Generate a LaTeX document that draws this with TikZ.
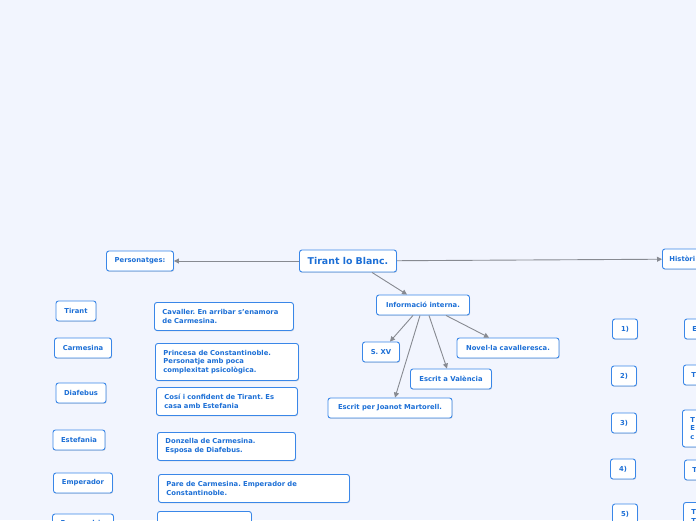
\documentclass[tikz,border=0pt]{standalone}
\usepackage{fontspec}
\setmainfont{DejaVu Sans}
\usepackage{xcolor}
\usetikzlibrary{arrows.meta,positioning,shadows}
\definecolor{bgblue}{RGB}{242,245,254}
\definecolor{boxblue}{RGB}{58,135,232}
\definecolor{txtblue}{RGB}{28,111,214}
\definecolor{linkgray}{RGB}{135,138,145}
\tikzset{>=Stealth}
\frenchspacing

\begin{document}
\begin{tikzpicture}[
    x=1pt, y=-1pt,
    topic/.style={rectangle, draw=boxblue, fill=white, line width=0.9pt,
        rounded corners=2.5pt, text=txtblue, inner xsep=4pt, inner ysep=2pt,
        minimum height=20pt, font=\bfseries\fontsize{6.8}{8}\selectfont,
        drop shadow={shadow xshift=0.6pt, shadow yshift=-0.9pt, opacity=0.25}},
    central/.style={topic, minimum height=22pt, font=\bfseries\fontsize{9.4}{11}\selectfont},
    note/.style={topic, anchor=north west, align=left, inner xsep=8pt,
        inner ysep=3pt, font=\bfseries\fontsize{6.8}{8.8}\selectfont},
    link/.style={->, draw=linkgray, line width=0.9pt,
        >={Triangle[length=5pt,width=5pt]}}
]
    \useasboundingbox (0,0) rectangle (696,520);
    \clip (0,0) rectangle (696,520);
    \fill[bgblue] (0,0) rectangle (696,520);

    % main topic and branches
    \node[central, minimum width=97pt] (title) at (348,261) {Tirant lo Blanc.};
    \node[topic, minimum width=67pt] (pers) at (140,261) {Personatges:};
    \node[topic, anchor=west, align=left, inner xsep=7pt, text width=60pt] (hist) at (662,259) {Històri};
    \node[topic, minimum width=93pt] (info) at (423,305) {Informació interna.};

    \draw[link] (title) -- (pers);
    \draw[link] (title) -- (hist);
    \draw[link] ([xshift=24pt]title.south) -- ([xshift=-16pt]info.north);

    % informacio interna
    \node[topic, minimum width=37pt] (sxv) at (381,352) {S. XV};
    \node[topic, minimum width=102pt] (novela) at (508,348) {Novel·la cavalleresca.};
    \node[topic, minimum width=81pt] (valencia) at (451,379) {Escrit a València};
    \node[topic, minimum width=124pt] (martorell) at (390,408) {Escrit per Joanot Martorell.};

    \draw[link] ([xshift=-10pt]info.south) -- ([xshift=9pt]sxv.north);
    \draw[link] ([xshift=-3pt]info.south) -- ([xshift=5pt]martorell.north);
    \draw[link] ([xshift=6pt]info.south) -- ([xshift=-4pt]valencia.north);
    \draw[link] ([xshift=23pt]info.south) -- ([xshift=-19pt]novela.north);

    % personatges
    \node[topic, minimum width=40pt] (tirant) at (76,311) {Tirant};
    \node[topic, minimum width=57pt] (carmesina) at (83,348) {Carmesina};
    \node[topic, minimum width=50pt] (diafebus) at (81,393) {Diafebus};
    \node[topic, minimum width=52pt] (estefania) at (79,440) {Estefania};
    \node[topic, minimum width=59pt] (emperador) at (83,483) {Emperador};
    \node[topic, minimum width=61pt] (emperadriu) at (83,524) {Emperadriu};

    \node[note, text width=123pt, minimum height=28pt] (dtirant) at (154,302)
        {Cavaller. En arribar s'enamora\\de Carmesina.};
    \node[note, text width=127pt, minimum height=37pt] (dcarmesina) at (155,343)
        {Princesa de Constantinoble.\\Personatje amb poca\\complexitat psicològica.};
    \node[note, text width=125pt, minimum height=28pt] (ddiafebus) at (156,387)
        {Cosí i confident de Tirant. Es\\casa amb Estefania};
    \node[note, text width=122pt, minimum height=28pt] (destefania) at (157,432)
        {Donzella de Carmesina.\\Esposa de Diafebus.};
    \node[note, text width=175pt, minimum height=28pt] (demperador) at (158,474)
        {Pare de Carmesina. Emperador de\\Constantinoble.};
    \node[note, text width=78pt, minimum height=28pt] (demperadriu) at (157,511)
        {Mare de Carmesina.};

    % historic
    \node[topic, minimum width=25pt] (h1) at (625,329) {1)};
    \node[topic, minimum width=25pt] (h2) at (624,376) {2)};
    \node[topic, minimum width=25pt] (h3) at (624,423) {3)};
    \node[topic, minimum width=25pt] (h4) at (623,469) {4)};
    \node[topic, minimum width=25pt] (h5) at (625,514) {5)};

    \node[note, text width=60pt, minimum height=20pt, anchor=west] (dh1) at (684,329) {E};
    \node[note, text width=60pt, minimum height=20pt, anchor=west] (dh2) at (683,375) {T};
    \node[note, text width=60pt, minimum height=37pt, anchor=west] (dh3) at (682,428.5) {T\\E\\c};
    \node[note, text width=60pt, minimum height=20pt, anchor=west] (dh4) at (684,470) {T};
    \node[note, text width=60pt, minimum height=28pt] (dh5) at (683,502) {T\\T};
\end{tikzpicture}
\end{document}
